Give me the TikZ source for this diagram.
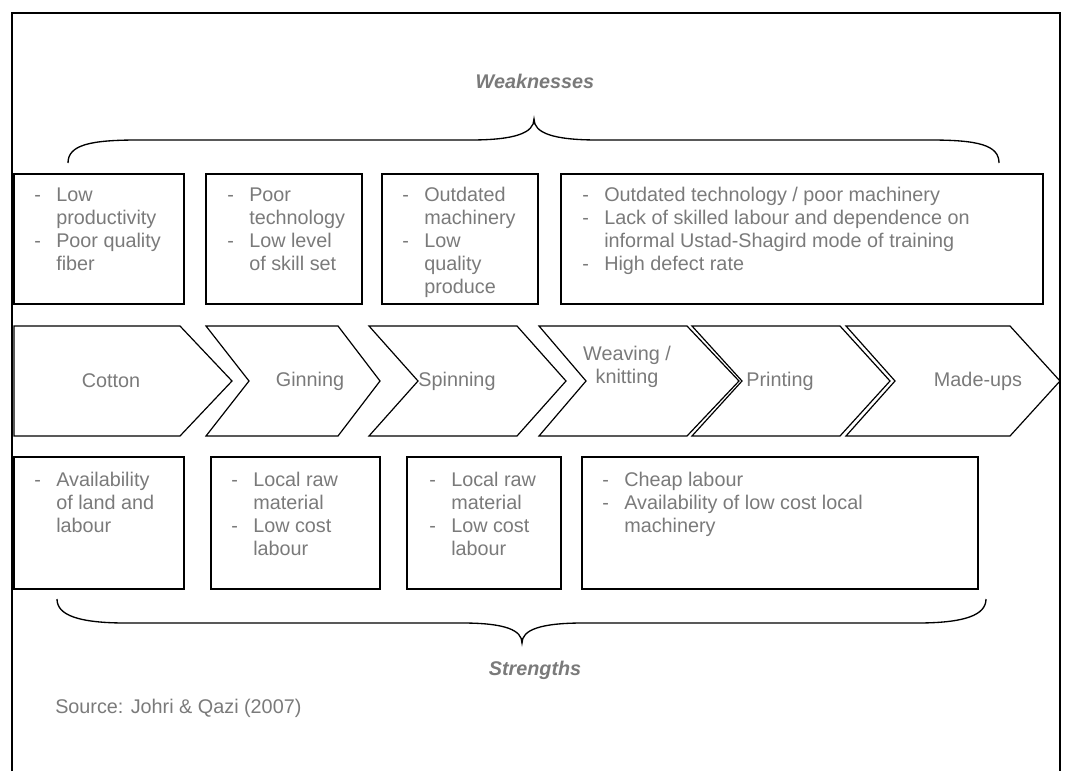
\documentclass[tikz,border=0pt]{standalone}
\usepackage{fontspec}
\setmainfont{Liberation Sans}
\definecolor{txt}{RGB}{122,122,122}
\newcommand\dl{\makebox[16.5pt][l]{-}}
\newcommand\il{\hspace*{16.5pt}}
\newcommand\fl{\rule{0pt}{15pt}}
\tikzset{
  frame/.style={line width=1.3pt},
  boxline/.style={line width=1pt},
  chev/.style={line width=0.9pt, line join=miter},
  brace/.style={line width=1pt},
  lbl/.style={text=txt, inner sep=0pt, font=\fontsize{14.85}{17.3}\selectfont},
  boxtext/.style={lbl, align=left, anchor=north west},
  title/.style={lbl, font=\fontsize{14.85}{17.3}\selectfont\bfseries\itshape}
}
\begin{document}
\begin{tikzpicture}[x=0.75pt,y=-0.75pt]
\useasboundingbox (0,0) rectangle (1070,771);
% frame
\draw[frame] (12,771) -- (12,13) -- (1060,13) -- (1060,771);
% titles
\node[title] (weak) at (535,81) {Weaknesses};
\node[title] (str) at (535,670) {Strengths};
\node[lbl, anchor=west] (src) at (55,708) {Source: Johri \& Qazi (2007)};
% top brace
\draw[brace] (68,163) .. controls (68,145) and (90,140) .. (138,140) -- (470,140)
  .. controls (515,140) and (534,133) .. (534,119)
  .. controls (534,133) and (553,140) .. (598,140) -- (930,140)
  .. controls (978,140) and (999,145) .. (999,163);
% bottom brace
\draw[brace] (57,599) .. controls (57,615) and (78,623) .. (126,623) -- (462,623)
  .. controls (505,623) and (522,630) .. (522,643)
  .. controls (522,630) and (540,623) .. (583,623) -- (917,623)
  .. controls (965,623) and (986,615) .. (986,599);
% top boxes
\draw[boxline] (14,174) rectangle (184,304);
\draw[boxline] (206,174) rectangle (362,304);
\draw[boxline] (382,174) rectangle (538,304);
\draw[boxline] (561,174) rectangle (1043,304);
\node[boxtext] (w1) at (34,181) {\fl\dl Low\\\il productivity\\\dl Poor quality\\\il fiber};
\node[boxtext] (w2) at (227,181) {\fl\dl Poor\\\il technology\\\dl Low level\\\il of skill set};
\begin{scope}
\clip (382,174) rectangle (538,300);
\node[boxtext] (w3) at (402,181) {\fl\dl Outdated\\\il machinery\\\dl Low\\\il quality\\\il produce};
\end{scope}
\node[boxtext] (w4) at (582,181) {\fl\dl Outdated technology / poor machinery\\\dl Lack of skilled labour and dependence on\\\il informal Ustad-Shagird mode of training\\\dl High defect rate};
% chevrons
\draw[chev] (14,326) -- (180,326) -- (232,381) -- (180,436) -- (14,436) -- cycle;
\draw[chev] (206,326) -- (338,326) -- (380,381) -- (338,436) -- (206,436) -- (249,381) -- cycle;
\draw[chev] (369,326) -- (517,326) -- (566,381) -- (517,436) -- (369,436) -- (418,381) -- cycle;
\draw[chev] (539,326) -- (687,326) -- (739,381) -- (687,436) -- (539,436) -- (586,381) -- cycle;
\draw[chev] (692,326) -- (840,326) -- (890,381) -- (840,436) -- (692,436) -- (742,381) -- cycle;
\draw[chev] (846,326) -- (1010,326) -- (1060,381) -- (1010,436) -- (846,436) -- (895,381) -- cycle;
\node[lbl] (cotton) at (111,381) {Cotton};
\node[lbl] (ginning) at (310,381) {Ginning};
\node[lbl] (spinning) at (457,381) {Spinning};
\node[lbl, align=center] (weaving) at (627,367) {Weaving /\\knitting};
\node[lbl] (printing) at (780,381) {Printing};
\node[lbl] (madeups) at (978,381) {Made-ups};
% bottom boxes
\draw[boxline] (14,457) rectangle (184,589);
\draw[boxline] (211,457) rectangle (380,589);
\draw[boxline] (407,457) rectangle (561,589);
\draw[boxline] (582,457) rectangle (978,589);
\node[boxtext] (s1) at (34,466) {\fl\dl Availability\\\il of land and\\\il labour};
\node[boxtext] (s2) at (231,466) {\fl\dl Local raw\\\il material\\\dl Low cost\\\il labour};
\node[boxtext] (s3) at (429,466) {\fl\dl Local raw\\\il material\\\dl Low cost\\\il labour};
\node[boxtext] (s4) at (602,466) {\fl\dl Cheap labour\\\dl Availability of low cost local\\\il machinery};
\end{tikzpicture}
\end{document}
